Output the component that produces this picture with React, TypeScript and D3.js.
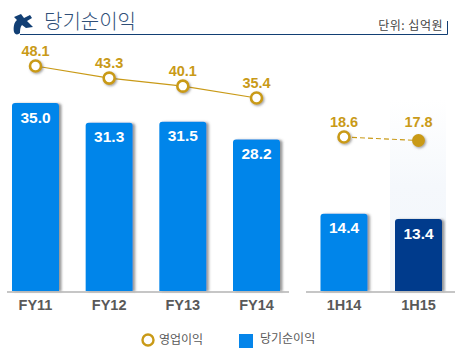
import React from "react";
import * as d3 from "d3";

const annualLabels = ["FY11", "FY12", "FY13", "FY14"];
const halfLabels = ["1H14", "1H15"];
const annualNet = [35.0, 31.3, 31.5, 28.2];
const halfNet = [14.4, 13.4];
const annualOp = [48.1, 43.3, 40.1, 35.4];
const halfOp = [18.6, 17.8];
const title = "당기순이익";
const unit = "단위: 십억원";
const legendOp = "영업이익";
const legendNet = "당기순이익";

const GOLD = "#c99a17";
const BLUE = "#0585ea";
const NAVY = "#003a8c";
const GREY = "#595959";
const KR = "'Noto Sans CJK KR', sans-serif";
const SANS = "'Liberation Sans', Arial, sans-serif";

const baseY = 291;
const y = d3.scaleLinear().domain([0, 35]).range([baseY, 103]);
const xAnnual = d3.scalePoint<string>().domain(annualLabels).range([35.5, 256.5]);
const xHalf = d3.scalePoint<string>().domain(halfLabels).range([344, 418.5]);
const yOpAnnual = d3.scaleLinear().domain([48.1, 35.4]).range([66, 98]);
const yOpHalf = d3.scaleLinear().domain([18.6, 17.8]).range([137, 140.5]);
const barW = 47;

function barPath(cx: number, top: number) {
  const l = cx - barW / 2, r = cx + barW / 2, c = 3;
  return `M${l},${baseY}V${top + c}Q${l},${top} ${l + c},${top}H${r - c}Q${r},${top} ${r},${top + c}V${baseY}Z`;
}

function Bar({ cx, v, label, fill }: { cx: number; v: number; label: string; fill: string }) {
  const top = y(v);
  return (
    <g>
      <path d={barPath(cx, top)} fill={fill} filter="url(#barShadow)" />
      <text x={cx} y={top + 19.5} textAnchor="middle" fontFamily={SANS} fontWeight={700} fontSize={15.5} fill="#fff">
        {v.toFixed(1)}
      </text>
      <text x={cx} y={309.5} textAnchor="middle" fontFamily={SANS} fontWeight={700} fontSize={14.5} fill={GREY}>
        {label}
      </text>
    </g>
  );
}

function Marker({ cx, cy, v, solid }: { cx: number; cy: number; v: number; solid?: boolean }) {
  return (
    <g>
      <circle cx={cx} cy={cy} r={solid ? 6.5 : 5.5} fill={solid ? GOLD : "#fff"} stroke={GOLD} strokeWidth={solid ? 0 : 2.6} filter="url(#dotShadow)" />
      <text x={cx} y={cy - (solid ? 13.5 : 10)} textAnchor="middle" fontFamily={SANS} fontWeight={700} fontSize={14.5} fill={GOLD}>
        {v.toFixed(1)}
      </text>
    </g>
  );
}

export default function App() {
  const annualLine = d3.line<number>().x((_, i) => xAnnual(annualLabels[i])!).y((d) => yOpAnnual(d));
  const halfLine = d3.line<number>().x((_, i) => xHalf(halfLabels[i])!).y((d) => yOpHalf(d));
  return (
    <svg width={461} height={355} style={{ position: "absolute", left: 0, top: 0, background: "#fff" }}>
      <defs>
        <filter id="barShadow" x="-10%" y="-5%" width="125%" height="110%">
          <feDropShadow dx={2.5} dy={0.5} stdDeviation={1.2} floodColor="#555" floodOpacity={0.6} />
        </filter>
        <filter id="dotShadow" x="-50%" y="-50%" width="220%" height="220%">
          <feDropShadow dx={1.2} dy={1.2} stdDeviation={0.9} floodColor="#555" floodOpacity={0.55} />
        </filter>
        <linearGradient id="hl" x1="0" y1="0" x2="0" y2="1">
          <stop offset="0" stopColor="#ffffff" />
          <stop offset="0.45" stopColor="#f5f8fc" />
          <stop offset="1" stopColor="#f1f6fb" />
        </linearGradient>
      </defs>

      <rect x={390} y={100} width={56} height={191} fill="url(#hl)" />

      <path d="M20,34.5H447.5V21" fill="none" stroke="#123f74" strokeWidth={1} />
      <path
        d="M14,17 L21,14 L24,18 L30,15 L32,18 L27,21 L33,27 L26,28 L22,25 C20,27 20,31 20,33 C18,35 15,35 14,32 C13,28 14,22 17,20 Z"
        fill="#123f74"
      />
      <text x={44} y={29} fontFamily={KR} fontWeight={300} fontSize={20} fill="#2f4f78">{title}</text>
      <text x={443} y={30} textAnchor="end" fontFamily={KR} fontSize={12} letterSpacing={0.5} fill="#444">{unit}</text>

      {annualLabels.map((l, i) => (
        <Bar key={l} cx={xAnnual(l)!} v={annualNet[i]} label={l} fill={BLUE} />
      ))}
      {halfLabels.map((l, i) => (
        <Bar key={l} cx={xHalf(l)!} v={halfNet[i]} label={l} fill={i === 1 ? NAVY : BLUE} />
      ))}

      <line x1={7} x2={289} y1={292} y2={292} stroke="#b3b3b3" strokeWidth={1.5} />
      <line x1={306} x2={455} y1={292} y2={292} stroke="#b3b3b3" strokeWidth={1.5} />

      <path d={annualLine(annualOp)!} fill="none" stroke={GOLD} strokeWidth={1.2} />
      <path d={halfLine(halfOp)!} fill="none" stroke={GOLD} strokeWidth={1.2} strokeDasharray="5 3" />
      {annualLabels.map((l, i) => (
        <Marker key={l} cx={xAnnual(l)!} cy={yOpAnnual(annualOp[i])} v={annualOp[i]} />
      ))}
      {halfLabels.map((l, i) => (
        <Marker key={l} cx={xHalf(l)!} cy={yOpHalf(halfOp[i])} v={halfOp[i]} solid={i === 1} />
      ))}

      <circle cx={148} cy={340} r={5.5} fill="#fff" stroke={GOLD} strokeWidth={2.4} />
      <text x={159} y={344} fontFamily={KR} fontSize={12} fill={GREY}>{legendOp}</text>
      <rect x={239} y={334} width={14} height={14} fill={BLUE} />
      <text x={260} y={343} fontFamily={KR} fontSize={12} fill={GREY}>{legendNet}</text>
    </svg>
  );
}
